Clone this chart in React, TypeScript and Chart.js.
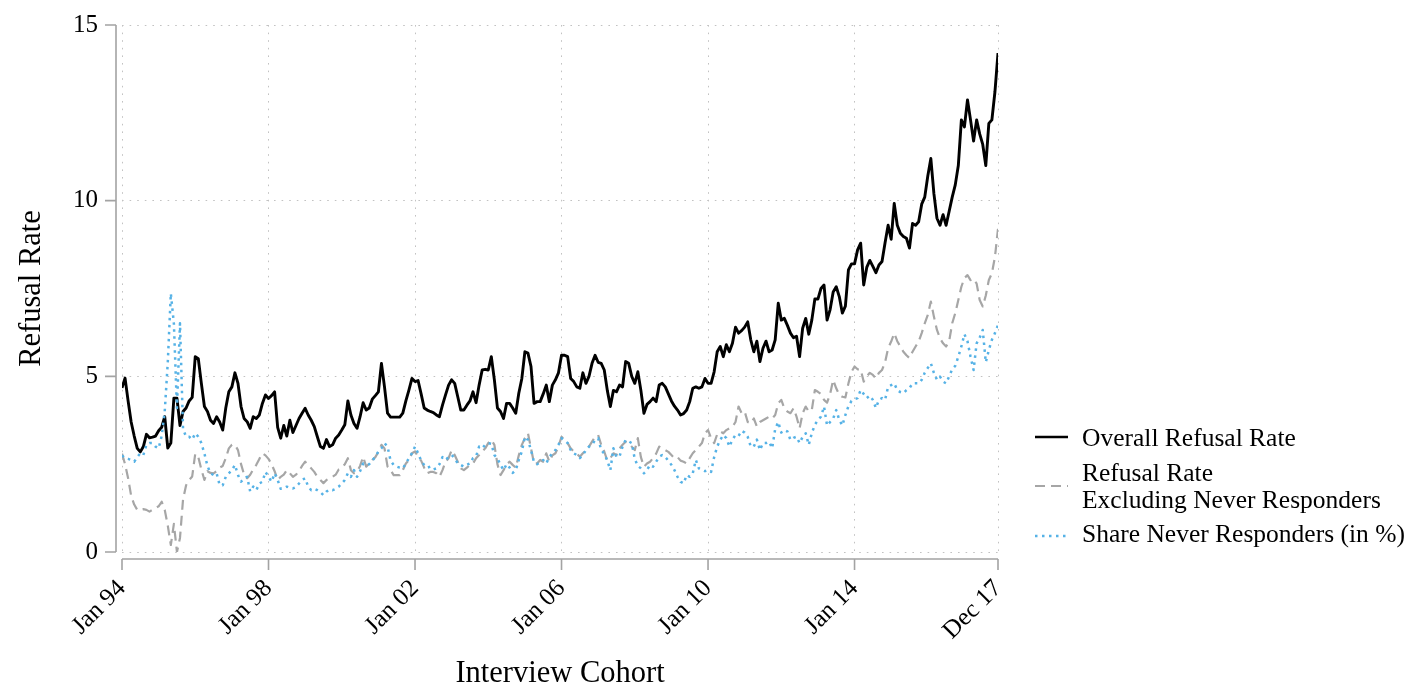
import React, { useEffect, useRef } from "react";
import { Chart, registerables } from "chart.js";

Chart.register(...registerables);

// Monthly values, Jan 1994 .. Dec 2017 (288 months), one row per year
const overallRefusal: number[] = [
  4.67, 4.95, 4.3, 3.7, 3.3, 2.95, 2.85, 3.0, 3.35, 3.25, 3.27, 3.3,
  3.45, 3.55, 3.85, 2.96, 3.1, 4.38, 4.38, 3.6, 4.0, 4.1, 4.3, 4.4,
  5.56, 5.5, 4.8, 4.14, 4.0, 3.75, 3.66, 3.85, 3.7, 3.47, 4.1, 4.56,
  4.7, 5.1, 4.8, 4.14, 3.8, 3.71, 3.52, 3.85, 3.8, 3.9, 4.23, 4.47,
  4.37, 4.45, 4.56, 3.55, 3.24, 3.6, 3.3, 3.75, 3.4, 3.6, 3.8, 3.95,
  4.09, 3.9, 3.75, 3.57, 3.28, 3.0, 2.95, 3.2, 3.0, 3.05, 3.24, 3.33,
  3.47, 3.62, 4.3, 3.9, 3.66, 3.52, 3.85, 4.25, 4.04, 4.1, 4.35, 4.45,
  4.56, 5.37, 4.7, 3.95, 3.84, 3.84, 3.84, 3.84, 3.95, 4.3, 4.61, 4.94,
  4.85, 4.88, 4.5, 4.1, 4.04, 4.0, 3.97, 3.9, 3.85, 4.18, 4.47, 4.75,
  4.9, 4.8, 4.42, 4.04, 4.04, 4.18, 4.3, 4.56, 4.25, 4.75, 5.18, 5.2,
  5.18, 5.56, 4.9, 4.1, 4.0, 3.8, 4.23, 4.23, 4.1, 3.95, 4.52, 4.94,
  5.7, 5.66, 5.28, 4.23, 4.28, 4.28, 4.5, 4.75, 4.28, 4.75, 4.9, 5.1,
  5.6, 5.6, 5.56, 4.94, 4.85, 4.7, 4.66, 5.1, 4.8, 5.0, 5.37, 5.6,
  5.4, 5.37, 5.18, 4.6, 4.14, 4.6, 4.56, 4.75, 4.7, 5.42, 5.37, 5.0,
  4.8, 5.13, 4.6, 3.95, 4.2, 4.28, 4.38, 4.28, 4.75, 4.8, 4.7, 4.5,
  4.3, 4.15, 4.04, 3.9, 3.94, 4.04, 4.28, 4.66, 4.7, 4.66, 4.7, 4.94,
  4.8, 4.8, 5.13, 5.7, 5.85, 5.56, 5.9, 5.7, 5.94, 6.4, 6.23, 6.3,
  6.4, 6.55, 6.04, 5.7, 6.0, 5.42, 5.8, 6.0, 5.7, 5.75, 6.04, 7.08,
  6.6, 6.65, 6.45, 6.23, 6.1, 6.14, 5.56, 6.37, 6.65, 6.2, 6.6, 7.2,
  7.2, 7.5, 7.6, 6.6, 6.9, 7.4, 7.55, 7.27, 6.8, 7.0, 8.03, 8.2,
  8.2, 8.6, 8.79, 7.6, 8.1, 8.3, 8.13, 7.95, 8.17, 8.27, 8.8, 9.3,
  8.9, 9.92, 9.3, 9.07, 8.98, 8.93, 8.65, 9.35, 9.3, 9.4, 9.9, 10.1,
  10.7, 11.2, 10.2, 9.5, 9.3, 9.6, 9.3, 9.7, 10.1, 10.45, 11.0, 12.3,
  12.1, 12.87, 12.3, 11.7, 12.3, 11.9, 11.6, 11.0, 12.2, 12.3, 13.1, 14.2,
];

const refusalExclNever: number[] = [
  2.8, 2.5, 2.1, 1.6, 1.35, 1.2, 1.2, 1.22, 1.2, 1.15, 1.2, 1.25,
  1.3, 1.43, 1.2, 0.75, 0.2, 0.8, 0.0, 0.4, 1.5, 1.9, 2.05, 2.15,
  2.8, 2.7, 2.35, 2.05, 2.3, 2.25, 2.24, 2.3, 2.4, 2.45, 2.67, 2.95,
  3.05, 3.05, 2.9, 2.5, 2.2, 2.1, 2.2, 2.35, 2.48, 2.65, 2.81, 2.75,
  2.65, 2.5, 2.3, 2.05, 2.14, 2.2, 2.33, 2.24, 2.14, 2.2, 2.3, 2.45,
  2.57, 2.48, 2.38, 2.28, 2.14, 2.05, 1.96, 2.05, 2.1, 2.14, 2.2, 2.35,
  2.4, 2.5, 2.67, 2.33, 2.24, 2.28, 2.45, 2.71, 2.43, 2.52, 2.62, 2.7,
  2.85, 3.05, 2.95, 2.43, 2.33, 2.19, 2.19, 2.19, 2.33, 2.52, 2.62, 2.81,
  2.86, 2.71, 2.6, 2.4, 2.24, 2.28, 2.28, 2.24, 2.14, 2.33, 2.57, 2.67,
  2.9, 2.76, 2.57, 2.38, 2.33, 2.4, 2.48, 2.52, 2.67, 2.76, 2.86, 2.95,
  3.1, 3.19, 3.05, 2.5, 2.19, 2.33, 2.5, 2.57, 2.48, 2.4, 2.75, 3.05,
  3.24, 3.38, 2.95, 2.52, 2.52, 2.62, 2.57, 2.81, 2.57, 2.75, 2.81, 3.0,
  3.28, 3.19, 3.1, 2.95, 2.86, 2.8, 2.71, 2.81, 2.9, 3.0, 3.14, 3.28,
  3.33, 3.05, 2.86, 2.6, 2.67, 2.81, 2.76, 2.95, 3.05, 3.14, 3.1, 3.0,
  2.9, 3.24, 2.7, 2.43, 2.52, 2.57, 2.67, 2.8, 3.0, 2.95, 2.9, 2.85,
  2.76, 2.67, 2.7, 2.6, 2.57, 2.52, 2.67, 2.81, 2.9, 3.0, 3.1, 3.38,
  3.47, 3.24, 3.1, 3.35, 3.43, 3.38, 3.47, 3.52, 3.57, 3.7, 4.14, 3.95,
  4.0, 3.7, 3.66, 3.8, 3.57, 3.7, 3.75, 3.8, 3.85, 3.8, 3.9, 4.23,
  4.33, 4.09, 4.0, 3.95, 4.09, 3.85, 3.52, 3.95, 4.14, 4.0, 4.04, 4.61,
  4.56, 4.5, 4.33, 4.25, 4.5, 4.9, 4.66, 4.47, 4.42, 4.4, 4.8, 5.13,
  5.28, 5.2, 5.2, 4.85, 5.0, 5.1, 5.04, 4.94, 5.1, 5.18, 5.4, 5.8,
  5.99, 6.23, 6.0, 5.85, 5.7, 5.6, 5.52, 5.7, 5.85, 5.99, 6.23, 6.51,
  6.75, 7.13, 6.7, 6.32, 6.08, 5.94, 5.85, 6.0, 6.51, 6.8, 7.17, 7.55,
  7.8, 7.88, 7.74, 7.78, 7.64, 7.17, 6.99, 7.3, 7.74, 7.93, 8.4, 9.2,
];

const shareNeverResponders: number[] = [
  2.75, 2.67, 2.65, 2.62, 2.57, 2.7, 2.81, 2.76, 3.05, 3.1, 3.1, 3.0,
  2.95, 3.3, 4.0, 5.4, 7.36, 6.5, 4.1, 6.51, 3.5, 3.28, 3.28, 3.2,
  3.38, 3.28, 3.1, 2.8, 2.45, 2.24, 2.19, 2.24, 1.9, 1.9, 2.14, 2.24,
  2.33, 2.48, 2.19, 2.0, 2.1, 2.14, 1.72, 1.86, 1.76, 1.95, 2.0, 2.28,
  2.14, 2.0, 2.24, 2.05, 1.8, 1.81, 1.86, 1.83, 1.81, 1.85, 1.95, 2.05,
  2.1, 1.86, 1.76, 1.8, 1.76, 1.7, 1.62, 1.72, 1.78, 1.76, 1.8, 1.86,
  1.95, 2.05, 2.24, 2.14, 2.33, 2.14, 2.3, 2.52, 2.48, 2.5, 2.6, 2.71,
  2.86, 2.95, 3.1, 3.0, 2.6, 2.48, 2.43, 2.4, 2.38, 2.52, 2.67, 2.81,
  3.0, 2.81, 2.6, 2.48, 2.4, 2.43, 2.35, 2.38, 2.5, 2.7, 2.62, 2.7,
  2.76, 2.67, 2.52, 2.48, 2.43, 2.48, 2.52, 2.67, 2.72, 3.0, 2.95, 3.05,
  3.1, 3.08, 2.76, 2.67, 2.48, 2.33, 2.5, 2.4, 2.25, 2.33, 2.62, 2.86,
  3.28, 3.19, 2.9, 2.55, 2.5, 2.55, 2.62, 2.52, 2.71, 2.8, 2.9, 3.05,
  3.24, 3.17, 3.1, 2.9, 2.81, 2.76, 2.67, 2.76, 2.9, 3.0, 3.05, 3.19,
  3.24, 2.9, 2.8, 2.6, 2.33, 2.95, 2.7, 2.72, 3.0, 3.19, 3.15, 3.1,
  2.65, 2.45, 2.38, 2.24, 2.33, 2.48, 2.43, 2.57, 2.71, 2.76, 2.7, 2.6,
  2.48, 2.33, 2.14, 2.0, 1.95, 2.19, 2.14, 2.24, 2.62, 2.38, 2.33, 2.3,
  2.33, 2.28, 2.7, 3.0, 3.19, 3.33, 3.24, 3.0, 3.2, 3.33, 3.3, 3.45,
  3.4, 3.28, 3.0, 3.0, 3.2, 2.9, 3.1, 3.1, 3.14, 2.95, 3.5, 3.7,
  3.4, 3.47, 3.43, 3.19, 3.25, 3.28, 3.1, 3.28, 3.38, 3.05, 3.38, 3.62,
  3.76, 3.85, 4.14, 3.6, 3.7, 3.8, 4.04, 3.76, 3.6, 3.9, 4.15, 4.3,
  4.35, 4.38, 4.61, 4.5, 4.38, 4.45, 4.33, 4.1, 4.33, 4.38, 4.33, 4.7,
  4.75, 4.8, 4.61, 4.55, 4.52, 4.61, 4.66, 4.8, 4.8, 4.8, 4.9, 5.1,
  5.24, 5.37, 5.1, 4.9, 4.99, 4.85, 4.8, 5.0, 5.2, 5.3, 5.56, 5.85,
  6.2, 6.0, 5.56, 5.18, 5.94, 6.1, 6.32, 5.4, 5.75, 6.04, 6.23, 6.46,
];

const xTickMonths: number[] = [0, 48, 96, 144, 192, 240, 287];
const xTickLabels: string[] = ["Jan 94", "Jan 98", "Jan 02", "Jan 06", "Jan 10", "Jan 14", "Dec 17"];
const yTickValues: number[] = [0, 5, 10, 15];
const seriesNames: string[][] = [
  ["Overall Refusal Rate"],
  ["Refusal Rate", "Excluding Never Responders"],
  ["Share Never Responders (in %)"],
];
const xTitle = "Interview Cohort";
const yTitle = "Refusal Rate";

const SERIF = '"Liberation Serif", "Times New Roman", serif';
const AXIS_COLOR = "#a3a3a3";
const GRID_COLOR = "#c2c2c2";
const COLORS = ["#000000", "#a6a6a6", "#56b2e6"];
const DASHES = [[], [10, 6], [2.5, 4.5]];
const WIDTHS = [2.9, 2.2, 2.5];

const stataDecor = {
  id: "stataDecor",
  afterDraw(chart: any) {
    const { ctx, scales } = chart;
    const x = scales.x;
    const y = scales.y;
    ctx.save();
    ctx.strokeStyle = AXIS_COLOR;
    ctx.lineWidth = 1.6;
    ctx.setLineDash([]);
    // y axis
    const yAxisX = x.left - 6;
    ctx.beginPath();
    ctx.moveTo(yAxisX, y.getPixelForValue(yTickValues[0]));
    ctx.lineTo(yAxisX, y.getPixelForValue(yTickValues[yTickValues.length - 1]));
    for (const v of yTickValues) {
      const py = y.getPixelForValue(v);
      ctx.moveTo(yAxisX - 11, py);
      ctx.lineTo(yAxisX, py);
    }
    ctx.stroke();
    // x axis
    const xAxisY = y.bottom + 7;
    ctx.beginPath();
    ctx.moveTo(x.getPixelForValue(xTickMonths[0]), xAxisY);
    ctx.lineTo(x.getPixelForValue(xTickMonths[xTickMonths.length - 1]), xAxisY);
    for (const m of xTickMonths) {
      const px = x.getPixelForValue(m);
      ctx.moveTo(px, xAxisY);
      ctx.lineTo(px, xAxisY + 11);
    }
    ctx.stroke();

    // axis titles
    ctx.fillStyle = "#000";
    ctx.font = `30.5px ${SERIF}`;
    ctx.textAlign = "center";
    ctx.textBaseline = "alphabetic";
    ctx.fillText(xTitle, (x.left + x.right) / 2, 682);
    ctx.save();
    ctx.translate(40, (y.top + y.bottom) / 2);
    ctx.rotate(-Math.PI / 2);
    ctx.fillText(yTitle, 0, 0);
    ctx.restore();

    // legend
    const sampleX0 = 1035;
    const sampleX1 = 1068;
    const textX = 1082;
    const sampleYs = [437, 486, 536];
    const baselines = [[446], [481, 508], [542]];
    ctx.font = `25.5px ${SERIF}`;
    ctx.textAlign = "left";
    seriesNames.forEach((lines, i) => {
      ctx.save();
      ctx.strokeStyle = COLORS[i];
      ctx.lineWidth = Math.min(WIDTHS[i], 2.4);
      ctx.setLineDash(DASHES[i]);
      ctx.beginPath();
      ctx.moveTo(sampleX0, sampleYs[i]);
      ctx.lineTo(sampleX1, sampleYs[i]);
      ctx.stroke();
      ctx.restore();
      lines.forEach((t, j) => ctx.fillText(t, textX, baselines[i][j]));
    });
    ctx.restore();
  },
};

export default function App() {
  const canvasRef = useRef<HTMLCanvasElement | null>(null);

  useEffect(() => {
    const canvas = canvasRef.current;
    if (!canvas) return;
    const series = [overallRefusal, refusalExclNever, shareNeverResponders];
    const chart = new Chart(canvas, {
      type: "line",
      data: {
        datasets: series.map((vals, i) => ({
          label: seriesNames[i].join(" "),
          data: vals.map((v, m) => ({ x: m, y: v })),
          borderColor: COLORS[i],
          borderWidth: WIDTHS[i],
          borderDash: DASHES[i],
          borderJoinStyle: "round" as const,
          pointRadius: 0,
          tension: 0,
          fill: false,
          order: 2 - i,
        })),
      },
      options: {
        responsive: false,
        animation: false,
        devicePixelRatio: 1,
        layout: { padding: { left: 0, right: 412, top: 25, bottom: 0 } },
        plugins: { legend: { display: false }, tooltip: { enabled: false } },
        scales: {
          x: {
            type: "linear",
            min: xTickMonths[0],
            max: xTickMonths[xTickMonths.length - 1],
            afterFit(s: any) {
              s.height = 136;
              s.paddingLeft = 0;
              s.paddingRight = 0;
            },
            afterBuildTicks(s: any) {
              s.ticks = xTickMonths.map((v) => ({ value: v }));
            },
            grid: { color: GRID_COLOR, lineWidth: 1, drawTicks: false },
            border: { display: false, dash: [1.6, 6] },
            ticks: {
              autoSkip: false,
              minRotation: 45,
              maxRotation: 45,
              padding: 22,
              color: "#000",
              font: { family: SERIF, size: 25 },
              callback: (v: any) => {
                const k = xTickMonths.indexOf(Number(v));
                return k >= 0 ? xTickLabels[k] : "";
              },
            },
          },
          y: {
            type: "linear",
            min: yTickValues[0],
            max: yTickValues[yTickValues.length - 1],
            afterFit(s: any) {
              s.width = 122;
              s.paddingTop = 0;
              s.paddingBottom = 0;
            },
            afterBuildTicks(s: any) {
              s.ticks = yTickValues.map((v) => ({ value: v }));
            },
            grid: { color: GRID_COLOR, lineWidth: 1, drawTicks: false },
            border: { display: false, dash: [1.6, 6] },
            ticks: {
              padding: 24,
              color: "#000",
              font: { family: SERIF, size: 25 },
              callback: (v: any) => String(v),
            },
          },
        },
      },
      plugins: [stataDecor],
    });
    return () => chart.destroy();
  }, []);

  return (
    <div style={{ position: "absolute", left: 0, top: 0, width: 1410, height: 688, background: "#fff" }}>
      <canvas ref={canvasRef} width={1410} height={688} style={{ display: "block" }} />
    </div>
  );
}
